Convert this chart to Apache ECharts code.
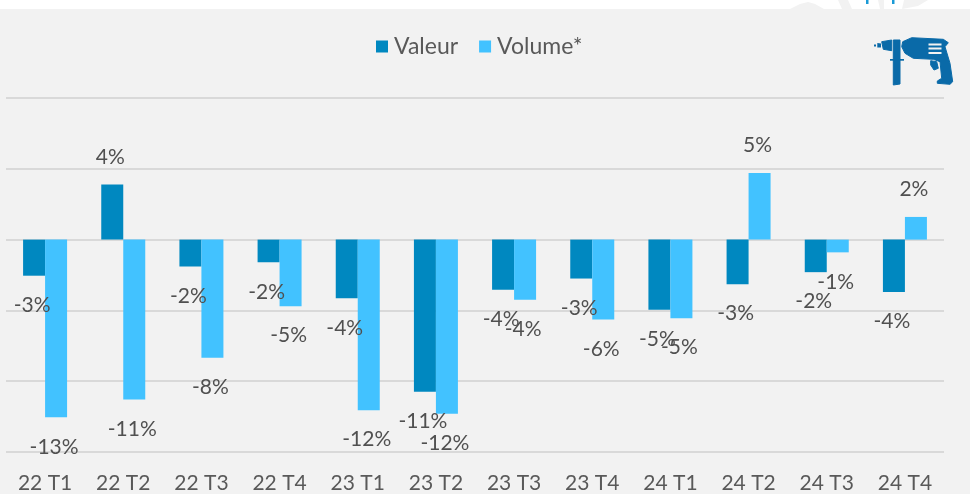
<!DOCTYPE html>
<html><head><meta charset="utf-8">
<style>html,body{margin:0;padding:0;background:#fff}#c{width:970px;height:494px;background:linear-gradient(#fff 9px,#f2f2f2 9px)}</style>
<script src="https://cdn.jsdelivr.net/npm/echarts@6/dist/echarts.min.js"></script></head>
<body><div id="c"></div>
<script>
const categories=['22 T1','22 T2','22 T3','22 T4','23 T1','23 T2','23 T3','23 T4','24 T1','24 T2','24 T3','24 T4'];
const valeur=[-2.55,3.9,-1.9,-1.6,-4.15,-10.75,-3.55,-2.75,-4.95,-3.15,-2.3,-3.7];
const volume=[-12.55,-11.3,-8.35,-4.7,-12.05,-12.3,-4.25,-5.65,-5.55,4.7,-0.9,1.6];
const valeurLabels=['-3%','4%','-2%','-2%','-4%','-11%','-4%','-3%','-5%','-3%','-2%','-4%'];
const volumeLabels=['-13%','-11%','-8%','-5%','-12%','-12%','-4%','-6%','-5%','5%','-1%','2%'];
const font='Lato';
const textColor='#505050';
const iconColor='#0a6aa8';
const bg='#f2f2f2';
const poly=(points,fill,stroke)=>({type:'polygon',shape:{points},style:{fill,stroke:stroke||null,lineWidth:stroke?1:0}});
const mk=(name,data,labels,color)=>({name,type:'bar',data,barWidth:22,barGap:'0%',itemStyle:{color},
 label:{show:true,position:'outside',distance:18,offset:[-2,1],color:textColor,fontSize:21,fontFamily:font,
 formatter:p=>labels[p.dataIndex]}});
const chart=echarts.init(document.getElementById('c'));
chart.setOption({
 animation:false,backgroundColor:'transparent',
 legend:{top:30,left:371,itemWidth:12,itemHeight:12,itemGap:21,icon:'rect',
  textStyle:{color:'#595959',fontSize:23,fontFamily:font,padding:[0,0,0,1]}},
 grid:{left:6,right:26,top:98,bottom:41},
 xAxis:{type:'category',data:categories,axisLine:{show:false},axisTick:{show:false},
  axisLabel:{interval:0,color:'#595959',fontSize:21,fontFamily:font,margin:21}},
 yAxis:{type:'value',min:-15,max:10,interval:5,axisLabel:{show:false},axisLine:{show:false},axisTick:{show:false},
  splitLine:{lineStyle:{color:'#d9d9d9',width:2}}},
 graphic:[
  poly([[790,9],[800,4],[808,2],[815,4],[824,9]],bg),
  poly([[838,0],[848,0],[852,9],[842,9]],bg),
  poly([[878,0],[884,0],[884,9],[880,9]],bg),
  poly([[904,0],[928,0],[918,6],[902,9]],bg),
  poly([[866,0],[868.5,0],[868.5,4],[866,4]],'#1a9ad6'),
  poly([[892,0],[894.5,0],[894.5,4],[892,4]],'#1a9ad6'),
  poly([[902.7,41.7],[911.7,37.7],[943.3,39.3],[948.3,42.7],[945,46.7],[950,63.3],[952.7,81.7],[950,84.3],[937.3,83.3],[937.3,81],[941.7,78.3],[940,61.7],[933.3,59.3],[913.3,58.3],[905,53.3],[901.7,46.7]],iconColor,iconColor),
  poly([[930.7,60.7],[936.7,61.7],[938.3,68.3],[934,70],[930.7,65]],iconColor,iconColor),
  poly([[893.3,40],[900,40],[900,84],[893.3,85]],iconColor,iconColor),
  poly([[890,59],[904,59],[904,60.7],[890,60.7]],iconColor),
  poly([[881.7,41.7],[891.7,40],[891.7,50.7],[883.3,49.3]],iconColor,iconColor),
  poly([[877.3,43],[881,43.5],[881,47.5],[877.3,47.5]],iconColor),
  poly([[874,44.5],[876,44.5],[876,46.5],[874,46.5]],iconColor),
  {type:'rect',shape:{x:928.5,y:43.5,width:13,height:2},style:{fill:bg}},
  {type:'rect',shape:{x:928.5,y:47.5,width:13,height:2},style:{fill:bg}},
  {type:'rect',shape:{x:928.5,y:52,width:13,height:2},style:{fill:bg}}
 ],
 series:[mk('Valeur',valeur,valeurLabels,'#0088c0'),mk('Volume*',volume,volumeLabels,'#42c2ff')]
});
</script></body></html>
